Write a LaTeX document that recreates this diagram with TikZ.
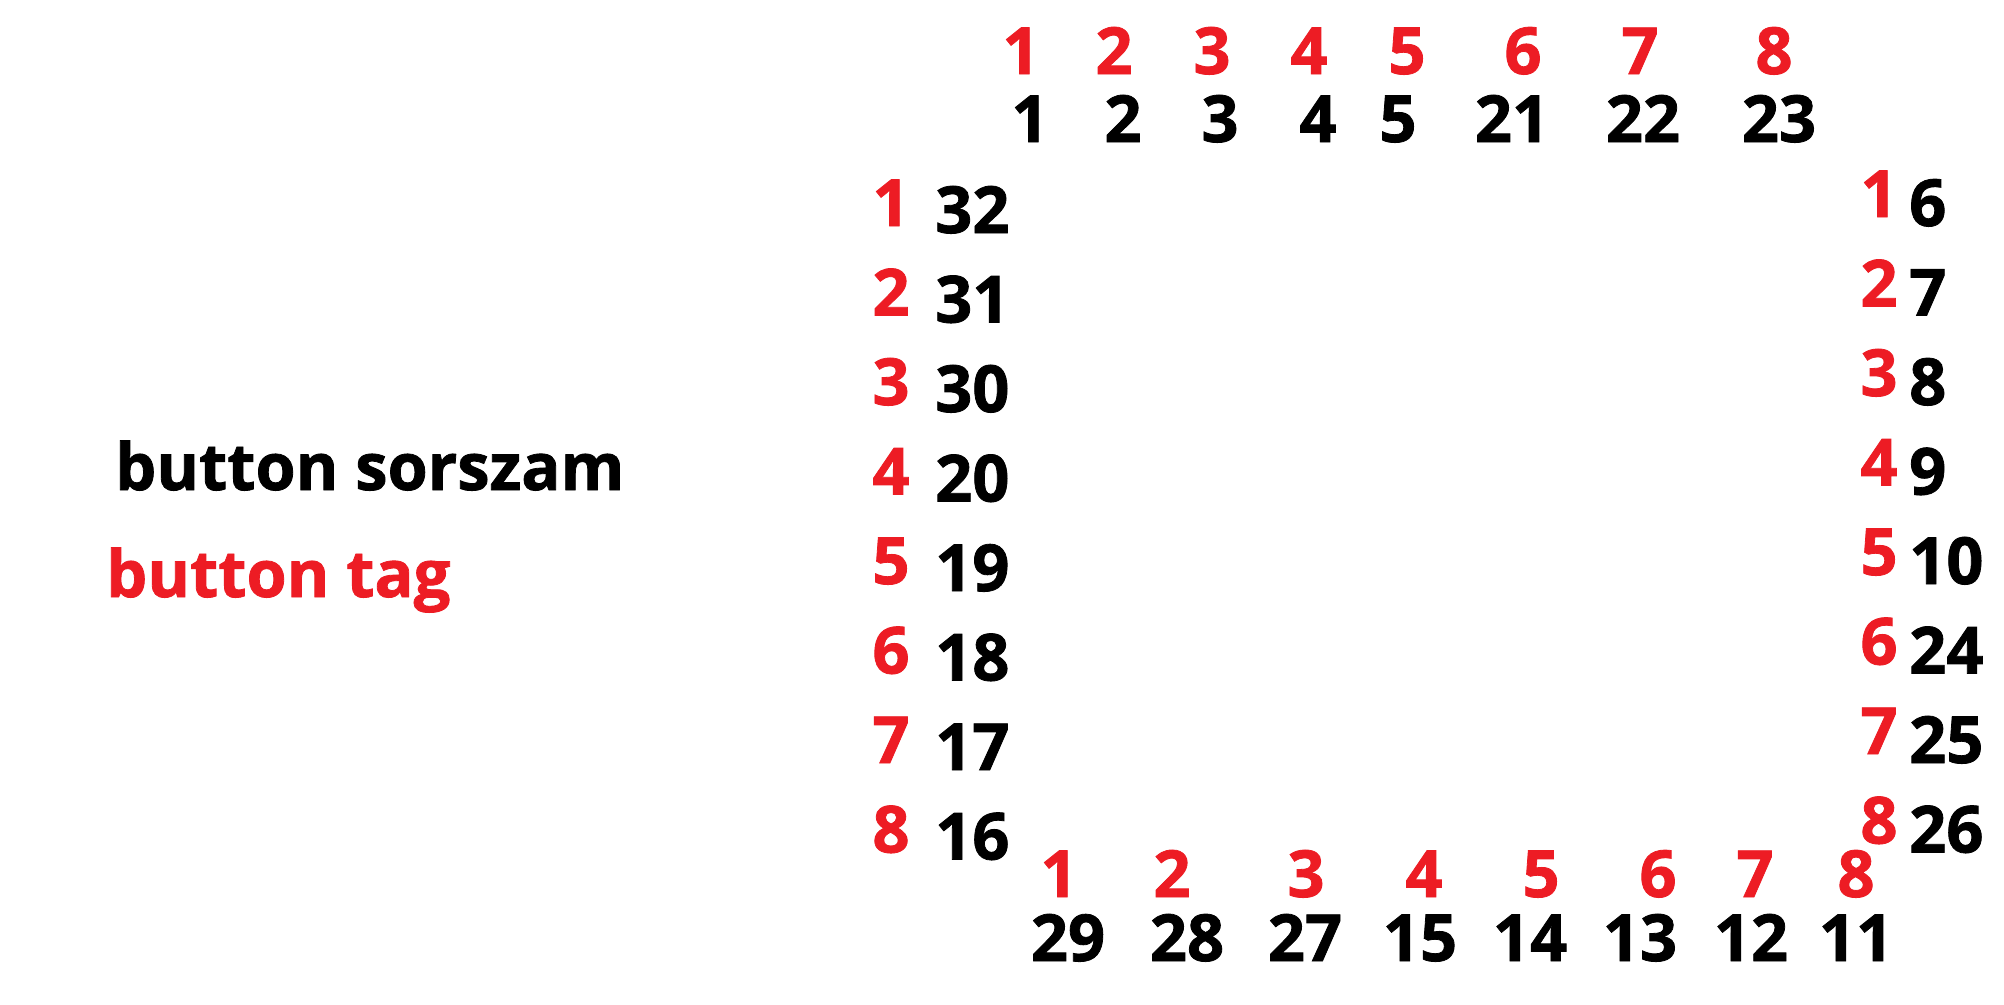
\documentclass[tikz,border=0pt]{standalone}
\usepackage{fontspec}
\setmainfont{Open Sans}[BoldFeatures={FakeBold=1.2}]
\definecolor{pred}{HTML}{ED1C24}
\tikzset{
  num/.style={font=\fontsize{65}{70}\selectfont\bfseries, inner sep=0pt, anchor=base},
  tagnum/.style={num, text=pred},
  legend/.style={font=\fontsize{65}{70}\selectfont\bfseries, inner sep=0pt, anchor=base west}
}
\begin{document}
\begin{tikzpicture}[x=1pt,y=-1pt]
\useasboundingbox[fill=white] (0,0) rectangle (2004,1004);
% legend
\node[legend] (leg1) at (115,490) {button sorszam};
\node[legend, text=pred] (leg2) at (106,597) {button tag};
% top row
\foreach \x [count=\i] in {1021,1114,1212,1309,1407,1523,1640,1774}
  \node[tagnum] (tt\i) at (\x,74) {\i};
\foreach \x/\n [count=\i] in {1030/1,1123/2,1220/3,1318/4,1398/5,1512/21,1643/22,1779/23}
  \node[num] (tb\i) at (\x,142) {\n};
% left column
\foreach \n [count=\i] in {32,31,30,20,19,18,17,16} {
  \node[tagnum] (lt\i) at (891,{226+89.5*(\i-1)}) {\i};
  \node[num, anchor=base west] (lb\i) at (935,{233+89.5*(\i-1)}) {\n};
}
% right column
\foreach \n [count=\i] in {6,7,8,9,10,24,25,26} {
  \node[tagnum] (rt\i) at (1879,{217+89.5*(\i-1)}) {\i};
  \node[num, anchor=base west] (rb\i) at (1909,{226+89.5*(\i-1)}) {\n};
}
% bottom row
\foreach \x [count=\i] in {1059,1172,1306,1424,1541,1658,1755,1856}
  \node[tagnum] (bt\i) at (\x,897) {\i};
\foreach \x/\n [count=\i] in {1068/29,1187/28,1305/27,1420/15,1530/14,1640/13,1751/12,1856/11}
  \node[num] (bb\i) at (\x,961) {\n};
\end{tikzpicture}
\end{document}
